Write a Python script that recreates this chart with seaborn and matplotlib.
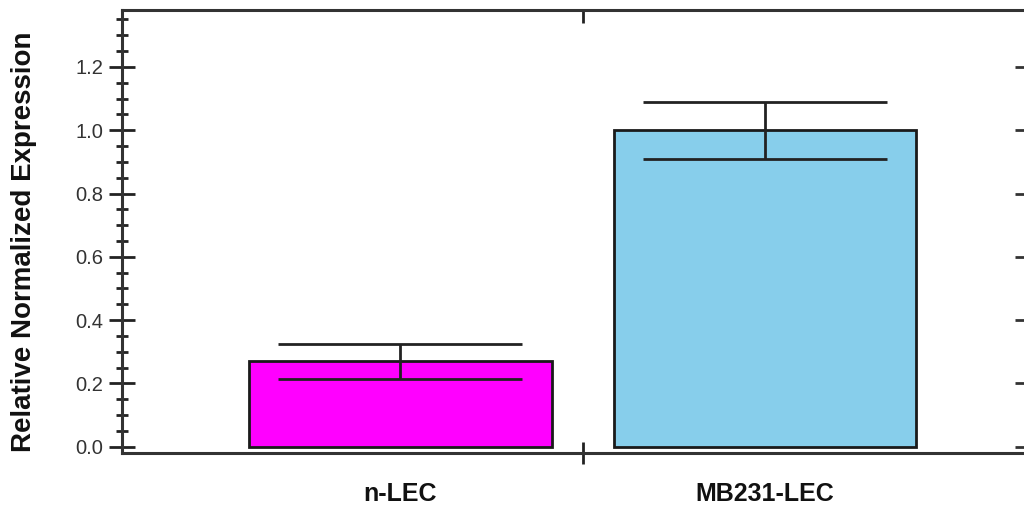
import matplotlib
matplotlib.use("Agg")
import matplotlib.pyplot as plt
import seaborn as sns
import pandas as pd
import numpy as np
from matplotlib.ticker import MultipleLocator, FixedLocator

categories = ["n-LEC", "MB231-LEC"]
values = [0.27, 1.00]
errors = [0.056, 0.09]
colors = ["#FF00FF", "#87CEEB"]
yticks = [0.0, 0.2, 0.4, 0.6, 0.8, 1.0, 1.2]

sns.set_style("white")
plt.rcParams['font.family'] = ['Liberation Sans', 'DejaVu Sans']

df = pd.DataFrame({"group": categories, "value": values})

fig = plt.figure(figsize=(10.24, 5.08), dpi=100)
ax = fig.add_axes([122/1024, 1 - 453/508, (1026 - 122)/1024, (453 - 10)/508])

sns.barplot(data=df, x="group", y="value", hue="group", palette=colors,
            legend=False, width=0.83, saturation=1, edgecolor="#1a1a1a",
            linewidth=2, ax=ax, zorder=2)
ax.errorbar(x=np.arange(len(categories)), y=values, yerr=errors, fmt="none",
            ecolor="#222222", elinewidth=2, capsize=87.5, capthick=2, zorder=3)

ax.set_xlim(-0.764, 1.716)
ax.set_ylim(-0.02, 1.38)

for s in ax.spines.values():
    s.set_visible(True)
    s.set_linewidth(2.2)
    s.set_color("#333333")

# left y axis ticks
ax.set_yticks(yticks)
ax.set_yticklabels([f"{t:.1f}" for t in yticks], fontsize=14.5, color="#333333")
ax.yaxis.set_minor_locator(MultipleLocator(0.05))
ax.tick_params(axis="y", which="major", direction="inout", length=19, width=2,
               color="#222222", left=True, right=False, pad=4)
ax.tick_params(axis="y", which="minor", direction="inout", length=9, width=2,
               color="#222222", left=True, right=False)

# right y axis: short ticks only
sec_y = ax.secondary_yaxis("right")
sec_y.set_yticks(yticks)
sec_y.set_yticklabels([""] * len(yticks))
sec_y.tick_params(direction="in", length=8, width=2, color="#333333")
sec_y.spines["right"].set_visible(False)

# x axis: labels at bars, tick mark at divider
ax.set_xticks([0, 1])
ax.set_xticklabels(categories, fontsize=18, fontweight="bold", color="#111111")
ax.xaxis.set_minor_locator(FixedLocator([0.5]))
ax.tick_params(axis="x", which="major", length=0, pad=21, bottom=True, top=False)
ax.tick_params(axis="x", which="minor", direction="inout", length=16, width=2,
               color="#222222", bottom=True, top=False)

sec = ax.secondary_xaxis("top")
sec.set_xticks([0.5])
sec.set_xticklabels([""])
sec.tick_params(direction="in", length=9, width=2, color="#222222")
sec.spines["top"].set_visible(False)

ax.set_xlabel("")
ax.set_ylabel("Relative Normalized Expression", fontsize=20, fontweight="bold",
              color="#111111")
ax.yaxis.set_label_coords(-0.094, 0.476)

fig.savefig("out.png", dpi=100)
